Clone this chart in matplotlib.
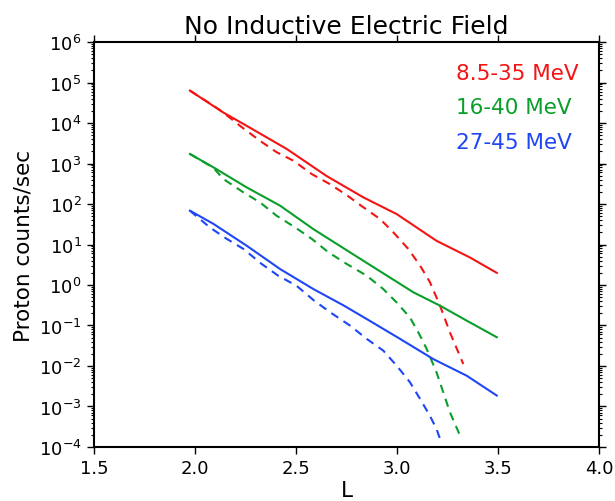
import numpy as np
import matplotlib.pyplot as plt
from matplotlib.ticker import LogLocator, NullFormatter

# L values and log10(counts/sec) for each energy channel
L_solid_red = [1.975, 2.14, 2.256, 2.454, 2.652, 2.833, 2.999, 3.196, 3.361, 3.494]
log_solid_red = [4.80, 4.26, 3.93, 3.36, 2.69, 2.165, 1.75, 1.09, 0.68, 0.30]

L_dash_red = [1.975, 2.10, 2.14, 2.223, 2.322, 2.404, 2.487, 2.578, 2.668, 2.751,
              2.833, 2.916, 2.982, 3.056, 3.114, 3.163, 3.213, 3.262, 3.328]
log_dash_red = [4.80, 4.40, 4.26, 3.93, 3.56, 3.28, 3.07, 2.74, 2.49, 2.22,
                1.92, 1.63, 1.30, 0.89, 0.48, 0.07, -0.51, -1.17, -1.95]

L_solid_green = [1.975, 2.091, 2.256, 2.421, 2.586, 2.817, 3.081, 3.213, 3.345, 3.494]
log_solid_green = [3.235, 2.906, 2.41, 1.96, 1.38, 0.65, -0.18, -0.51, -0.88, -1.29]

L_dash_green = [1.975, 2.09, 2.14, 2.239, 2.322, 2.404, 2.495, 2.578, 2.66, 2.751,
                2.85, 2.932, 2.998, 3.064, 3.114, 3.147, 3.196, 3.229, 3.262, 3.312]
log_dash_green = [3.235, 2.90, 2.62, 2.29, 2.04, 1.71, 1.425, 1.14, 0.81, 0.52,
                  0.23, -0.10, -0.43, -0.80, -1.25, -1.58, -2.16, -2.65, -3.14, -3.72]

L_solid_blue = [1.975, 2.091, 2.256, 2.421, 2.586, 2.734, 2.85, 3.015, 3.18, 3.345, 3.494]
log_solid_blue = [1.835, 1.51, 0.97, 0.395, -0.10, -0.50, -0.84, -1.33, -1.83, -2.24, -2.73]

L_dash_blue = [1.975, 2.074, 2.157, 2.24, 2.33, 2.412, 2.503, 2.586, 2.668, 2.767,
               2.85, 2.932, 2.998, 3.064, 3.114, 3.163, 3.196, 3.213]
log_dash_blue = [1.835, 1.42, 1.14, 0.89, 0.52, 0.23, -0.02, -0.37, -0.67, -1.0,
                 -1.33, -1.62, -1.99, -2.40, -2.81, -3.23, -3.56, -3.80]

channels = ['8.5-35 MeV', '16-40 MeV', '27-45 MeV']
label_log_y = [5.235, 4.395, 3.53]
colors = ['#f41414', '#0a9e2a', '#1e46f5']

fig = plt.figure(figsize=(6.15, 5.02), dpi=100)
ax = fig.add_axes([0.1528, 0.1076, 0.8212, 0.8067])

solids = [(L_solid_red, log_solid_red), (L_solid_green, log_solid_green),
          (L_solid_blue, log_solid_blue)]
dashes = [(L_dash_red, log_dash_red), (L_dash_green, log_dash_green),
          (L_dash_blue, log_dash_blue)]

for (xs, ls), (xd, ld), c in zip(solids, dashes, colors):
    ax.plot(xs, 10**np.array(ls), color=c, lw=1.5)
    ax.plot(xd, 10**np.array(ld), color=c, lw=1.5, dashes=(4, 3))

for name, ly, c in zip(channels, label_log_y, colors):
    ax.text(3.29, 10**ly, name, color=c, fontsize=15.5, va='center', ha='left')

ax.set_yscale('log')
ax.set_xlim(1.5, 4.0)
ax.set_ylim(1e-4, 1e6)
ax.set_xticks([1.5, 2.0, 2.5, 3.0, 3.5, 4.0])
ax.yaxis.set_major_locator(LogLocator(base=10, numticks=20))
ax.yaxis.set_minor_locator(LogLocator(base=10, subs=np.arange(2, 10), numticks=20))
ax.yaxis.set_minor_formatter(NullFormatter())

ax.tick_params(which='both', direction='out', top=True, right=True, labelsize=13)
ax.tick_params(which='major', length=5, width=1, pad=4)
ax.tick_params(which='minor', length=2.5, width=0.8)
for s in ax.spines.values():
    s.set_linewidth(1.5)

ax.set_title('No Inductive Electric Field', fontsize=18, y=1.0, pad=6.5)
ax.set_xlabel('L', fontsize=15.5, labelpad=2)
ax.set_ylabel('Proton counts/sec', fontsize=15.5, labelpad=4)

fig.savefig('out.png', dpi=100)
